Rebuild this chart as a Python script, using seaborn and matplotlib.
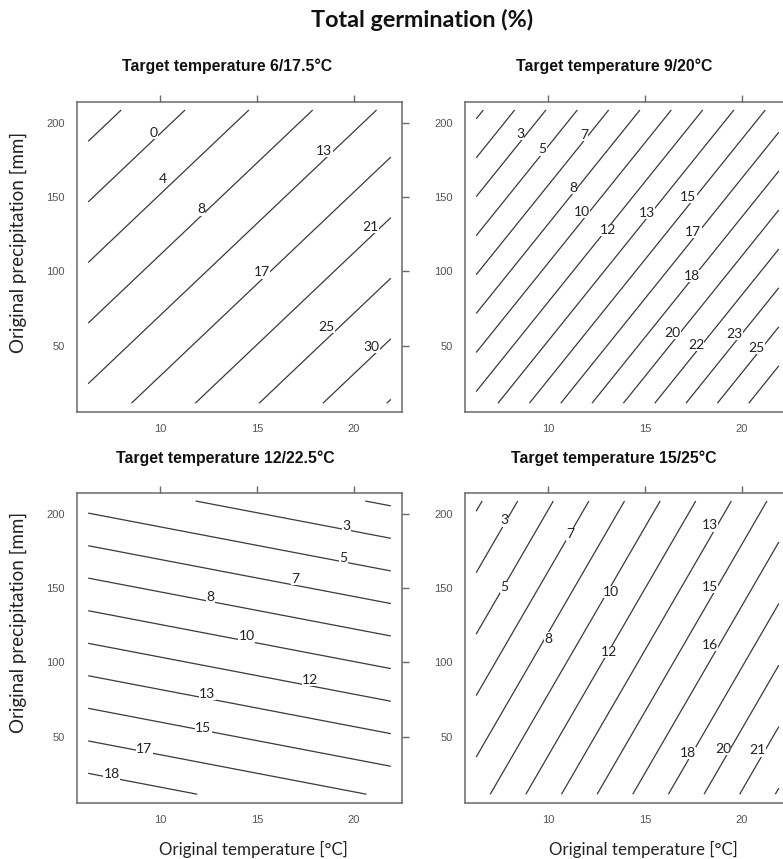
import numpy as np
import matplotlib.pyplot as plt
import seaborn as sns

# model grid of the original conditions
temp_grid = [6.3, 21.9]        # Original temperature [°C]
precip_grid = [11.5, 208.5]    # Original precipitation [mm]

# total germination (%) at the grid corners: rows = precip_grid, cols = temp_grid
germ_6_17 = [[14.02, 34.17], [-6.55, 13.60]]
germ_9_20 = [[12.17, 28.27], [-0.38, 15.72]]
germ_12_22 = [[19.40, 16.43], [4.38, 1.42]]
germ_15_25 = [[9.29, 23.05], [1.56, 15.33]]

levels_6_17 = [-4.35, -0.1, 4.15, 8.4, 12.65, 16.9, 21.15, 25.4, 29.65, 33.9]
levels_9_20 = [0, 1.67, 3.33, 5, 6.67, 8.33, 10, 11.67, 13.33, 15, 16.67,
               18.33, 20, 21.67, 23.33, 25, 26.67]
levels_12_22 = [1.67, 3.33, 5, 6.67, 8.33, 10, 11.67, 13.33, 15, 16.67, 18.33]
levels_15_25 = [1.83, 3.45, 5.07, 6.69, 8.31, 9.93, 11.55, 13.17, 14.79,
                16.41, 18.03, 19.65, 21.27, 22.89]

# contour labels (text, temperature, precipitation)
lab_6_17 = ["0", "4", "8", "13", "17", "21", "25", "30"]
lab_T_6_17 = [9.69, 10.17, 12.11, 18.47, 15.24, 20.86, 18.59, 20.91]
lab_P_6_17 = [193.3, 162.2, 141.8, 181.2, 99.5, 130.2, 62.6, 49.2]

lab_9_20 = ["3", "5", "7", "8", "10", "12", "13", "15", "17", "18", "20", "22", "23", "25"]
lab_T_9_20 = [8.56, 9.71, 11.85, 11.30, 11.76, 13.08, 15.10, 17.23, 17.49, 17.41,
              16.43, 17.63, 19.63, 20.74]
lab_P_9_20 = [192.4, 182.1, 191.7, 156.3, 140.2, 127.9, 139.2, 149.9, 126.8, 97.0,
              58.9, 50.7, 58.1, 48.5]

lab_12_22 = ["3", "5", "7", "8", "10", "12", "13", "15", "17", "18"]
lab_T_12_22 = [19.62, 19.45, 16.96, 12.61, 14.47, 17.73, 12.44, 12.23, 9.19, 7.51]
lab_P_12_22 = [191.5, 170.5, 156.3, 144.0, 117.6, 88.5, 79.1, 56.3, 42.2, 25.4]

lab_15_25 = ["3", "5", "7", "8", "10", "12", "13", "15", "16", "18", "20", "21"]
lab_T_15_25 = [7.74, 7.74, 11.16, 10.0, 13.22, 13.13, 18.34, 18.34, 18.34, 17.20,
               19.03, 20.82]
lab_P_15_25 = [195.5, 150.7, 186.1, 116.1, 147.3, 107.1, 192.1, 150.7, 111.6, 39.2,
               42.2, 41.0]

titles = ["Target temperature 6/17.5°C", "Target temperature 9/20°C",
          "Target temperature 12/22.5°C", "Target temperature 15/25°C"]

sns.set_theme(style="white")
plt.rcParams['font.family'] = ['Liberation Sans', 'DejaVu Sans']

W, H = 783, 859
fig = plt.figure(figsize=(W / 100, H / 100), dpi=100)


def fx(px):
    return px / W


def fy(py):
    return 1 - py / H


panels = [
    (germ_6_17, levels_6_17, lab_6_17, lab_T_6_17, lab_P_6_17, 77.3, 411.7, 226.7, 66.7),
    (germ_9_20, levels_9_20, lab_9_20, lab_T_9_20, lab_P_9_20, 465.3, 411.7, 614.0, 66.7),
    (germ_12_22, levels_12_22, lab_12_22, lab_T_12_22, lab_P_12_22, 77.3, 802.7, 225.0, 458.3),
    (germ_15_25, levels_15_25, lab_15_25, lab_T_15_25, lab_P_15_25, 465.3, 802.7, 613.3, 458.3),
]

box_w, box_h = 324.4, 309.6
edge = '#6a6a6a'
for i, (germ, levels, labs, lab_t, lab_p, left, bottom, tx, ty) in enumerate(panels):
    ax = fig.add_axes([fx(left), fy(bottom), box_w / W, box_h / H])
    ax.contour(temp_grid, precip_grid, np.array(germ), levels=levels,
               colors='#3a3a3a', linewidths=0.9, linestyles='solid')
    for s, t, p in zip(labs, lab_t, lab_p):
        ax.text(t, p, s, ha='center', va='center', fontsize=10, color='#222222',
                family=['Lato', 'DejaVu Sans'],
                bbox=dict(facecolor='white', edgecolor='none', pad=0.2))
    ax.set_xlim(5.74, 22.46)
    ax.set_ylim(5.8, 213.8)
    ax.set_xticks([10, 15, 20])
    ax.set_yticks([50, 100, 150, 200])
    ax.tick_params(direction='out', top=True, right=True, labeltop=False,
                   labelright=False, length=5, width=1, color=edge,
                   labelcolor='#555555', labelsize=8, pad=4)
    for sp in ax.spines.values():
        sp.set_color(edge)
        sp.set_linewidth(1.1)
    ax.set_facecolor('white')
    fig.text(fx(tx), fy(ty), titles[i], ha='center', va='center',
             fontsize=11.4, fontweight='bold', color='#111111')

fig.text(fx(422), fy(20), "Total germination (%)", ha='center', va='center',
         fontsize=16.8, fontweight='bold', family=['Lato', 'DejaVu Sans'], color='#111111')
for yc in [242.5, 622.5]:
    fig.text(fx(18.3), fy(yc), "Original precipitation [mm]", rotation=90,
             ha='center', va='center', fontsize=13.5, family=['Lato', 'DejaVu Sans'],
             color='#222222')
for xc in [253, 643]:
    fig.text(fx(xc), fy(849.3), "Original temperature [°C]", ha='center', va='center',
             fontsize=12.2, family=['Lato', 'DejaVu Sans'], color='#222222')

fig.savefig('out.png', dpi=100, facecolor='white')
